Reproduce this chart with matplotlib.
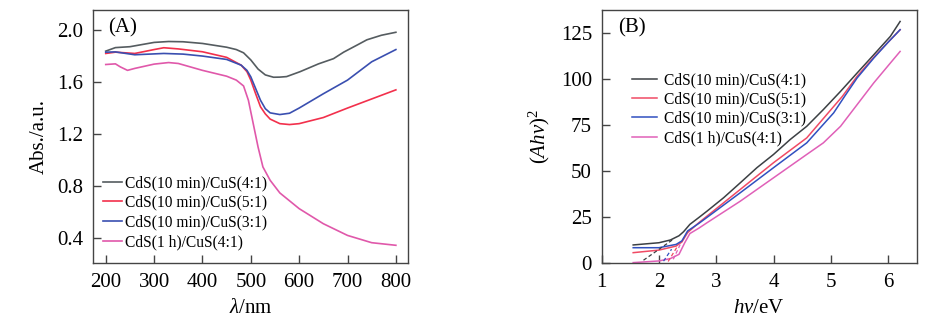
import matplotlib
matplotlib.use("Agg")
import matplotlib.pyplot as plt

plt.rcParams['font.family'] = ['Liberation Serif', 'DejaVu Serif']
plt.rcParams['mathtext.fontset'] = 'custom'
plt.rcParams['mathtext.rm'] = 'Liberation Serif'
plt.rcParams['mathtext.it'] = 'Liberation Serif:italic'

# ---------------- Panel A data ----------------
labels = ["CdS(10 min)/CuS(4:1)", "CdS(10 min)/CuS(5:1)",
          "CdS(10 min)/CuS(3:1)", "CdS(1 h)/CuS(4:1)"]

wl_gray = [200, 220, 250, 300, 330, 360, 400, 450, 470, 485, 500, 515, 530, 547, 560, 574, 602, 640, 671, 692, 720, 740, 770, 800]
abs_gray = [1.838, 1.865, 1.872, 1.905, 1.912, 1.91, 1.897, 1.868, 1.85, 1.825, 1.77, 1.70, 1.655, 1.637, 1.638, 1.642, 1.68, 1.74, 1.78, 1.83, 1.885, 1.925, 1.96, 1.983]

wl_red = [200, 220, 260, 300, 320, 350, 400, 450, 480, 492, 500, 510, 520, 530, 540, 560, 580, 600, 650, 700, 750, 800]
abs_red = [1.82, 1.83, 1.82, 1.85, 1.864, 1.855, 1.833, 1.79, 1.73, 1.68, 1.615, 1.51, 1.41, 1.355, 1.315, 1.28, 1.273, 1.28, 1.327, 1.40, 1.47, 1.54]

wl_blue = [200, 220, 260, 320, 360, 400, 450, 480, 492, 500, 510, 520, 530, 540, 560, 580, 600, 650, 700, 750, 800]
abs_blue = [1.83, 1.832, 1.81, 1.82, 1.815, 1.80, 1.774, 1.73, 1.69, 1.64, 1.55, 1.46, 1.395, 1.363, 1.35, 1.36, 1.40, 1.51, 1.615, 1.756, 1.85]

wl_pink = [200, 220, 230, 245, 260, 300, 330, 350, 400, 450, 470, 485, 495, 505, 515, 525, 540, 560, 600, 650, 700, 750, 800]
abs_pink = [1.735, 1.74, 1.717, 1.69, 1.705, 1.738, 1.75, 1.743, 1.69, 1.645, 1.615, 1.57, 1.46, 1.28, 1.10, 0.947, 0.844, 0.747, 0.626, 0.51, 0.42, 0.364, 0.344]

# ---------------- Panel B data ----------------
e_gray = [1.55, 2.0, 2.2, 2.35, 2.43, 2.54, 2.7, 2.84, 3.13, 3.42, 3.71, 4.0, 4.29, 4.58, 4.87, 5.17, 5.46, 5.75, 6.04, 6.21]
t_gray = [9.8, 11.0, 12.5, 14.8, 17.0, 21.0, 24.8, 28.2, 35.5, 43.6, 51.8, 59.0, 67.1, 74.3, 83.4, 93.3, 103.3, 113.2, 123.2, 131.3]

e_red = [1.55, 2.0, 2.3, 2.4, 2.5, 2.7, 3.0, 3.42, 4.0, 4.58, 4.93, 5.2, 5.46, 5.75, 6.0, 6.21]
t_red = [5.6, 7.0, 9.2, 11.4, 16.5, 22.0, 29.5, 40.0, 54.5, 68.0, 80.7, 90.5, 101.5, 111.8, 120.0, 126.8]

e_blue = [1.55, 2.0, 2.3, 2.4, 2.45, 2.5, 2.7, 3.0, 3.42, 4.0, 4.58, 5.05, 5.25, 5.46, 5.75, 6.0, 6.21]
t_blue = [8.3, 8.3, 10.1, 12.0, 14.7, 17.4, 21.6, 28.5, 38.2, 51.8, 65.3, 81.6, 91.0, 100.6, 111.4, 120.0, 126.8]

e_pink = [1.55, 2.0, 2.2, 2.35, 2.45, 2.54, 2.7, 2.84, 3.42, 4.0, 4.58, 4.87, 5.17, 5.46, 5.75, 6.04, 6.21]
t_pink = [0.2, 1.1, 2.4, 4.7, 11.0, 16.0, 19.0, 21.9, 33.6, 46.3, 59.0, 65.3, 74.3, 86.1, 97.9, 108.7, 115.0]

# tangent (extrapolation) dashed lines: (x0, x1), (y0, y1)
tan_gray = ([1.73, 2.25], [1.5, 12.9])
tan_blue = ([2.08, 2.22], [1.0, 7.5])
tan_red = ([2.16, 2.31], [0.8, 8.4])
tan_pink = ([2.25, 2.37], [2.0, 10.0])

colA = ['#555c60', '#f2304c', '#3a4fb0', '#e058aa']
colB = ['#3c4044', '#f04a64', '#3050c0', '#e060b8']

fig = plt.figure(figsize=(9.34, 3.35), dpi=100)
axA = fig.add_axes([0.0996, 0.215, 0.3372, 0.755])
axB = fig.add_axes([0.6442, 0.215, 0.3373, 0.755])

for ax in (axA, axB):
    for s in ax.spines.values():
        s.set_color('#444444')
        s.set_linewidth(1.0)
    ax.tick_params(direction='in', length=6, width=1.0, color='#444444',
                   labelsize=15, pad=7, top=False, right=False)

# Panel A
for x, y, c, l in zip([wl_gray, wl_red, wl_blue, wl_pink],
                      [abs_gray, abs_red, abs_blue, abs_pink], colA, labels):
    axA.plot(x, y, color=c, lw=1.2, label=l)
axA.set_xlim(173.7, 825)
axA.set_ylim(0.208, 2.154)
axA.set_xticks([200, 300, 400, 500, 600, 700, 800])
axA.set_yticks([0.4, 0.8, 1.2, 1.6, 2.0])
axA.set_yticklabels(['0.4', '0.8', '1.2', '1.6', '2.0'])
axA.set_xlabel(r'$\it{\lambda}$/nm', fontsize=15, labelpad=5)
axA.set_ylabel('Abs./a.u.', fontsize=15, labelpad=6)
axA.text(0.048, 0.93, '(A)', transform=axA.transAxes, fontsize=15, va='center', ha='left')
axA.legend(loc='upper left', bbox_to_anchor=(0.032, 0.348), frameon=False,
           fontsize=11.2, handlelength=1.2, handletextpad=0.2, labelspacing=0.24,
           borderpad=0, borderaxespad=0)

# Panel B
for x, y, c, l in zip([e_gray, e_red, e_blue, e_pink],
                      [t_gray, t_red, t_blue, t_pink], colB, labels):
    axB.plot(x, y, color=c, lw=1.1, label=l)
for (tx, ty), c in zip([tan_gray, tan_red, tan_blue, tan_pink], colB):
    axB.plot(tx, ty, color=c, lw=0.9, ls=(0, (3, 2)))
axB.set_xlim(1, 6.5)
axB.set_ylim(0, 137.5)
axB.set_xticks([1, 2, 3, 4, 5, 6])
axB.set_yticks([0, 25, 50, 75, 100, 125])
axB.set_xlabel(r'$h\nu$/eV', fontsize=15, labelpad=5)
axB.set_ylabel(r'$(Ah\nu)^2$', fontsize=15, labelpad=6)
axB.text(0.052, 0.93, '(B)', transform=axB.transAxes, fontsize=15, va='center', ha='left')
axB.legend(loc='upper left', bbox_to_anchor=(0.095, 0.755), frameon=False,
           fontsize=11.2, handlelength=1.6, handletextpad=0.45, labelspacing=0.22,
           borderpad=0, borderaxespad=0)

fig.savefig('out.png', dpi=100)
